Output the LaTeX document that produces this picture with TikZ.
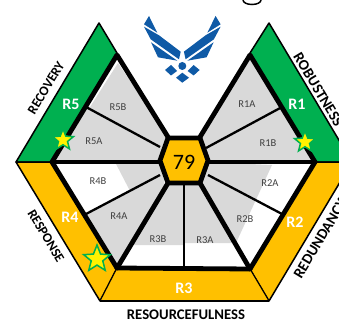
\documentclass[tikz,border=0pt]{standalone}
\usepackage{fontspec}
\setmainfont{Carlito}
\definecolor{rgreen}{HTML}{00B050}
\definecolor{ryellow}{HTML}{FFC000}
\definecolor{rgrey}{HTML}{D9D9D9}
\definecolor{rblue}{HTML}{0F5AA6}
\definecolor{rtext}{HTML}{404040}
\usetikzlibrary{shapes.geometric}
\tikzset{
  band/.style={draw=black,line width=1.5pt,line join=round},
  heavy/.style={draw=black,line width=4.8pt,line join=round,line cap=round},
  thin divider/.style={draw=black,line width=2.3pt},
  sub/.style={font=\fontsize{10.5}{10.5}\selectfont,text=rtext,inner sep=0pt},
  big/.style={font=\bfseries\fontsize{16}{16}\selectfont,text=white,inner sep=0pt},
  edge label/.style={font=\bfseries\fontsize{13.5}{13.5}\selectfont,text=black,inner sep=0pt},
  long label/.style={font=\bfseries\fontsize{15}{15}\selectfont,text=black,inner sep=0pt},
  starmark/.style={star,star points=5,star point ratio=2.3,fill=yellow,draw=rgreen,line width=1.5pt,inner sep=0pt},
}
\newcommand{\halfwing}{%
  \fill[rblue] (149,16) -- (157.3,32.7) -- (144,24.3) -- cycle;
  \fill[rblue] (144,26.7) -- (159,35.3) -- (180.7,51.7) -- (179,59.3) -- (150.7,39.3) -- cycle;
  \fill[rblue] (151,42.3) -- (177.3,60.7) -- (158,57.3) -- cycle;
  \fill[rblue] (165,70) -- (171,65) -- (177,71) -- (171,75.5) -- cycle;
}
\begin{document}
\begin{tikzpicture}[x=1pt,y=-1pt]
\useasboundingbox (0,0) rectangle (339,323);
\clip (0,0) rectangle (339,323);
% outer bands
\path[band,fill=rgreen] (99,23) -- (117,53) -- (52,162) -- (16,162) -- cycle;
\path[band,fill=rgreen] (269,23) -- (250,53) -- (315,162) -- (352,162) -- cycle;
\path[band,fill=ryellow] (16,162) -- (52,162) -- (117,268) -- (100,301) -- cycle;
\path[band,fill=ryellow] (352,162) -- (315,162) -- (250,269) -- (269,301) -- cycle;
\path[band,fill=ryellow,draw=none] (100,301) -- (117,268) -- (250,269) -- (269,301) -- cycle;
\draw[black,line width=1pt] (100,301) -- (117,268);
\draw[black,line width=1pt] (269,301) -- (250,269);
\draw[black,line width=1.5pt] (100,301) -- (269,301);
% grey fills
\fill[rgrey] (118,63) -- (168,137) -- (161,162) -- (52,162) -- (86,107) -- (90,107) -- cycle;
\fill[rgrey] (250,55) -- (200,137) -- (207,162) -- (315,162) -- cycle;
\fill[rgrey] (115,162) -- (130,191) -- (86,214) -- (117,268) -- (165,187) -- (161,160) -- cycle;
\fill[rgrey] (168,183) -- (131,245) -- (184,245) -- (184,183) -- cycle;
\fill[rgrey] (184,183) -- (184,243) -- (236,243) -- (272,165) -- (207,162) -- (200,183) -- cycle;
% heavy lines
\draw[heavy] (168,137) -- (117,55) -- (52,162) -- (117,268) -- (250,269) -- (315,162) -- (250,55) -- (200,137);
\draw[heavy] (52,162) -- (161,162);
\draw[heavy] (207,162) -- (315,162);
\draw[heavy] (117,268) -- (168,183);
\draw[heavy] (250,269) -- (200,183);
% thin dividers
\draw[thin divider] (184,183) -- (184,268);
\draw[thin divider] (206,148) -- (282,107);
\draw[thin divider] (86,107) -- (160,147);
\draw[thin divider] (86,214) -- (160,175);
\draw[thin divider] (208,175) -- (282,214);
% centre hexagon
\path[fill=ryellow,draw=black,line width=4.8pt,line join=round] (168,138) -- (200,138) -- (208,160.5) -- (200,183) -- (168,183) -- (160,160.5) -- cycle;
\node[font=\fontsize{22}{22}\selectfont,inner sep=0pt] (score) at (184,162) {79};
% logo
\halfwing
\begin{scope}[xshift=364.6pt,xscale=-1]\halfwing\end{scope}
\fill[rblue] (182.3,66) circle (4);
\fill[rblue] (176,77.7) -- (182.3,72.7) -- (189,77.7) -- (182.3,82.7) -- cycle;
% cut-off letter at top
\draw[black,line width=1.5pt] (243,0) arc[start angle=180,end angle=360,x radius=9,y radius=-4.5];
% stars
\node[starmark,minimum size=22pt] (s5) at (63,140) {};
\node[starmark,minimum size=22pt] (s1) at (305,142) {};
\node[starmark,minimum size=28pt] (s4) at (97,259) {};
% sub labels
\node[sub] (r5b) at (118,107) {R5B};
\node[sub] (r5a) at (94,141) {R5A};
\node[sub] (r1a) at (247,104) {R1A};
\node[sub] (r1b) at (268,143) {R1B};
\node[sub] (r2a) at (270,183) {R2A};
\node[sub] (r2b) at (245,219.5) {R2B};
\node[sub] (r3a) at (205,240) {R3A};
\node[sub] (r3b) at (158,239) {R3B};
\node[sub] (r4a) at (119,216) {R4A};
\node[sub] (r4b) at (98,181) {R4B};
% band labels
\node[big] (r5) at (71,104) {R5};
\node[big] (r1) at (297,104) {R1};
\node[big] (r4) at (70,217) {R4};
\node[big] (r2) at (295,222) {R2};
\node[big] (r3) at (184,288) {R3};
% edge labels
\node[edge label,rotate=59] (recovery) at (46,88) {RECOVERY};
\node[long label,rotate=-59,anchor=west] (robust) at (297,54) {ROBUSTNESS};
\node[long label,rotate=59,anchor=west] (redund) at (297,277) {REDUNDANCY};
\node[edge label,rotate=-59] (response) at (46,236) {RESPONSE};
\node[edge label,font=\bfseries\fontsize{14.7}{14.7}\selectfont] (resource) at (186,315) {RESOURCEFULNESS};
\end{tikzpicture}
\end{document}
